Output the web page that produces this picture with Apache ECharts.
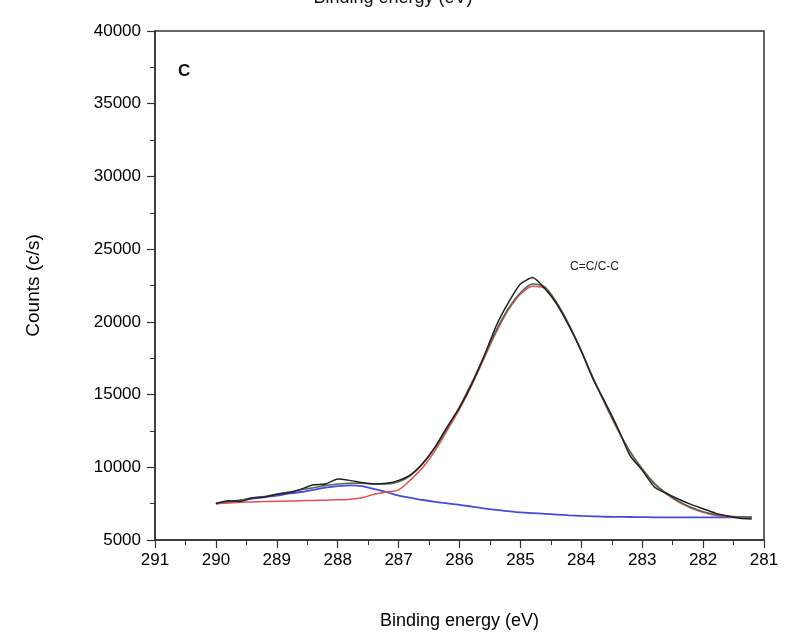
<!DOCTYPE html>
<html>
<head>
<meta charset="utf-8">
<script src="https://cdn.jsdelivr.net/npm/echarts@6/dist/echarts.min.js"></script>
<style>
html,body{margin:0;padding:0;background:#fff;}
#chart{width:786px;height:635px;}
</style>
</head>
<body>
<div id="chart"></div>
<script>
// Binding energy (eV) sample points
var energies = [290.0,289.8,289.6,289.4,289.2,289.0,288.8,288.6,288.4,288.2,288.0,287.8,287.6,287.4,287.2,287.0,286.8,286.6,286.4,286.2,286.0,285.8,285.6,285.4,285.2,285.0,284.8,284.6,284.4,284.2,284.0,283.8,283.6,283.4,283.2,283.0,282.8,282.6,282.4,282.2,282.0,281.8,281.6,281.4,281.2];
// Raw counts (black)
var rawCounts = [7500,7700,7650,7900,7950,8150,8250,8500,8800,8850,9200,9100,8950,8850,8900,9100,9500,10300,11400,12800,14100,15700,17600,19700,21300,22600,23050,22300,21200,19700,18000,16000,14400,12700,10800,9800,8650,8200,7800,7450,7150,6850,6650,6500,6450];
// Fitted envelope (green)
var envelope = [7550,7650,7750,7900,8000,8150,8300,8450,8600,8750,8850,8900,8900,8850,8850,9000,9450,10250,11350,12700,14150,15800,17600,19400,20900,22000,22600,22400,21300,19800,18000,16100,14300,12600,11100,9900,8900,8200,7650,7250,6950,6750,6650,6600,6580];
// C=C/C-C component (red)
var component = [7500,7550,7600,7620,7640,7660,7680,7700,7720,7740,7760,7800,7900,8150,8300,8450,9150,10000,11150,12550,14000,15650,17450,19250,20800,21900,22450,22300,21200,19750,17950,16050,14250,12550,11050,9850,8850,8150,7600,7200,6900,6700,6600,6560,6550];
// Background (blue)
var background = [7500,7600,7700,7850,7950,8050,8200,8300,8450,8600,8700,8750,8700,8500,8300,8050,7900,7750,7620,7520,7420,7300,7180,7070,6980,6900,6850,6800,6750,6700,6660,6630,6600,6590,6580,6570,6560,6560,6550,6550,6550,6550,6550,6550,6550];

var xTicks = {min: 281, max: 291, interval: 1};
var yTicks = {min: 5000, max: 40000, interval: 5000};

function pairs(arr){ return energies.map(function(e,i){ return [e, arr[i]]; }); }

var font = 'Liberation Sans, Arial, sans-serif';
var chart = echarts.init(document.getElementById('chart'), null, {renderer:'canvas'});
chart.setOption({
  animation: false,
  backgroundColor: '#fff',
  grid: {left: 155, right: 22, top: 31, bottom: 95, show: true, borderColor: '#333', borderWidth: 1.5, backgroundColor: 'transparent'},
  xAxis: {
    type: 'value', inverse: true, min: xTicks.min, max: xTicks.max, interval: xTicks.interval,
    name: 'Binding energy (eV)', nameLocation: 'middle', nameGap: 72,
    nameTextStyle: {fontFamily: font, fontSize: 18, color: '#000'},
    axisLine: {show: true, onZero: false, lineStyle: {color: '#333', width: 1.5}},
    axisTick: {show: true, inside: false, length: 8, lineStyle: {color: '#333', width: 1.2}},
    minorTick: {show: true, splitNumber: 2, length: 5, lineStyle: {color: '#333', width: 1}},
    axisLabel: {fontFamily: font, fontSize: 17, color: '#000', margin: 12, formatter: function(v){ return String(v); }},
    splitLine: {show: false}
  },
  yAxis: {
    type: 'value', min: yTicks.min, max: yTicks.max, interval: yTicks.interval,
    name: 'Counts (c/s)', nameLocation: 'middle', nameGap: 112, nameRotate: 90,
    nameTextStyle: {fontFamily: font, fontSize: 19, color: '#000'},
    axisLine: {show: true, onZero: false, lineStyle: {color: '#333', width: 1.5}},
    axisTick: {show: true, inside: false, length: 8, lineStyle: {color: '#333', width: 1.2}},
    minorTick: {show: true, splitNumber: 2, length: 5, lineStyle: {color: '#333', width: 1}},
    axisLabel: {fontFamily: font, fontSize: 17, color: '#000', margin: 14, formatter: function(v){ return String(v); }},
    splitLine: {show: false}
  },
  series: [
    {name: 'Background', type: 'line', data: pairs(background), showSymbol: false, smooth: 0.3, lineStyle: {color: '#4a4ad8', width: 1.8}, z: 2},
    {name: 'C=C/C-C', type: 'line', data: pairs(component), showSymbol: false, smooth: 0.3, lineStyle: {color: '#e05050', width: 1.5}, z: 3},
    {name: 'Fit', type: 'line', data: pairs(envelope), showSymbol: false, smooth: 0.3, lineStyle: {color: '#4c6a50', width: 1.5}, z: 4},
    {name: 'Raw', type: 'line', data: pairs(rawCounts), showSymbol: false, smooth: 0.2, lineStyle: {color: '#222', width: 1.5}, z: 5}
  ],
  graphic: [
    {type: 'text', left: 'center', top: -11, style: {text: 'Binding energy (eV)', font: '18px ' + font, fill: '#111'}},
    {type: 'text', left: 178, top: 63, style: {text: 'C', font: 'bold 17px ' + font, fill: '#111'}},
    {type: 'text', left: 570, top: 261, style: {text: 'C=C/C-C', font: '12px ' + font, fill: '#222'}}
  ]
});
</script>
</body>
</html>
